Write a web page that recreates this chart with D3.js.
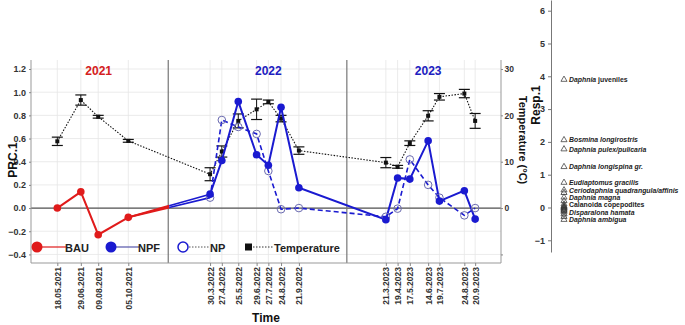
<!DOCTYPE html>
<html>
<head>
<meta charset="utf-8">
<script src="https://cdn.jsdelivr.net/npm/d3@7"></script>
<style>
  body { margin: 0; background: #fff; }
  svg { font-family: "Liberation Sans", Arial, sans-serif; }
</style>
</head>
<body>
<div id="chart"></div>
<script>
// sampling dates and their position on the (uneven) time axis
var dates = ["18.05.2021","29.06.2021","09.08.2021","05.10.2021",
  "30.3.2022","27.4.2022","25.5.2022","29.6.2022","27.7.2022","24.8.2022","21.9.2022",
  "21.3.2023","19.4.2023","17.5.2023","14.6.2023","19.7.2023","24.8.2023","20.9.2023"]
var timePos = [5.6,10.6,14.3,20.7, 38.1,40.6,44.1,48.0,50.5,53.2,57.0, 75.5,78.0,80.6,84.5,86.9,92.2,94.5]
var yearDividers = [29.2, 67.2]
var years = ["2021","2022","2023"]
var yearCenters = [14.4, 50.5, 84.5]

// PRC scores (BAU in 2021, NPF / NP from 2022)
var bau = [0.0, 0.14, -0.23, -0.08]
var npf = [0.12,0.41,0.92,0.46,0.37,0.87,0.175, -0.10,0.26,0.25,0.58,0.06,0.15,-0.095]
var np  = [0.09,0.76,0.70,0.64,0.32,-0.01,0.0, -0.075,-0.005,0.42,0.20,0.09,-0.063,0.0]

// water temperature, mean and error
var temp    = [14.4,23.3,19.7,14.5, 7.3,12.2,18.8,21.3,22.9,19.3,12.4, 9.8,8.9,14.0,19.9,24.0,24.7,18.8]
var tempErr = [0.9,1.1,0.3,0.3, 1.4,1.2,1.5,2.2,0.4,0.7,0.8, 1.1,0.3,0.5,1.1,0.7,0.9,1.6]

// species responses
var species = ["Daphnia|juveniles","Bosmina longirostris|","Daphnia pulex/pulicaria|","Daphnia longispina gr.|",
  "Eudiaptomus gracilis|","Ceriodaphnia quadrangula/affinis|","Daphnia magna|","|Calanoida copepodites",
  "Disparalona hamata|","Daphnia ambigua|"]
var speciesScore = [3.9, 2.06, 1.78, 1.24, 0.76, 0.53, 0.31, 0.1, -0.14, -0.37]
var otherScores = [0.45, 0.2, 0.05, 0.02, 0.0, -0.02, -0.05, -0.08, -0.1, -0.2, -0.28]

var W = 685, H = 325
var svg = d3.select("#chart").append("svg").attr("width", W).attr("height", H)

var x = d3.scaleLinear().domain([0, 100]).range([31, 501])
var y = d3.scaleLinear().domain([-0.474, 1.295]).range([263, 58])
var yT = d3.scaleLinear().domain([-11.85, 32.37]).range([263, 58])
var yR = d3.scaleLinear().domain([-1.357, 6.326]).range([252, 0])

var ink = "#333"
var red = "#e01b1b", blue = "#1a1ad0"

// grid
var g = svg.append("g")
g.selectAll(".hg").data(d3.range(-0.4, 1.21, 0.2)).enter().append("line")
  .attr("x1", 31).attr("x2", 501).attr("y1", d => y(d)).attr("y2", d => y(d))
  .attr("stroke", "#e6e6e6").attr("stroke-width", 0.8)
g.selectAll(".vg").data(timePos).enter().append("line")
  .attr("x1", d => x(d)).attr("x2", d => x(d)).attr("y1", 60).attr("y2", 263)
  .attr("stroke", "#e6e6e6").attr("stroke-width", 0.8)

// zero line and year dividers
g.append("line").attr("x1", 31).attr("x2", 501).attr("y1", y(0)).attr("y2", y(0))
  .attr("stroke", "#555").attr("stroke-width", 1.3)
g.selectAll(".div").data(yearDividers).enter().append("line")
  .attr("x1", d => x(d)).attr("x2", d => x(d)).attr("y1", 60).attr("y2", 263)
  .attr("stroke", "#777").attr("stroke-width", 1.2)

// frame
g.append("path").attr("d", "M31,60V263H501V60").attr("fill", "none").attr("stroke", "#999").attr("stroke-width", 1)

// left axis
var ax = svg.append("g").attr("transform", "translate(31,0)")
  .call(d3.axisLeft(y).tickValues(d3.range(-0.4, 1.21, 0.2)).tickFormat(d3.format(".1f")).tickSize(2))
ax.select(".domain").remove()
ax.selectAll("text").attr("font-size", 9).attr("font-weight", "bold").attr("fill", ink)
  .text(d => Math.abs(d) < 1e-9 ? "0.0" : d3.format(".1f")(d))
ax.selectAll("line").attr("stroke", "#888")

// right temperature axis
var axT = svg.append("g").attr("transform", "translate(501,0)")
  .call(d3.axisRight(yT).tickValues([-10, 0, 10, 20, 30]).tickSize(2).tickPadding(1.5).tickFormat(d => d < 0 ? "" : d))
axT.select(".domain").remove()
axT.selectAll("text").attr("font-size", 8.5).attr("font-weight", "bold").attr("fill", ink)
axT.selectAll("line").attr("stroke", "#888")

// bottom axis
var axB = svg.append("g").attr("transform", "translate(0,263)")
  .call(d3.axisBottom(x).tickValues(timePos).tickFormat((d, i) => dates[i]).tickSize(3))
axB.select(".domain").remove()
axB.selectAll("line").attr("stroke", "#888")
axB.selectAll("text").attr("font-size", 8.5).attr("font-weight", "bold").attr("fill", ink)
  .attr("transform", "rotate(-90)").attr("text-anchor", "end")
  .attr("x", -4).attr("y", 0).attr("dy", "0.35em")

// axis titles
svg.append("text").attr("transform", "translate(17,160) rotate(-90)").attr("text-anchor", "middle")
  .attr("font-size", 12).attr("font-weight", "bold").attr("fill", "#111").text("PRC.1")
svg.append("text").attr("x", 266).attr("y", 322).attr("text-anchor", "middle")
  .attr("font-size", 12).attr("font-weight", "bold").attr("fill", "#111").text("Time")
svg.append("text").attr("transform", "translate(519,140) rotate(90)").attr("text-anchor", "middle")
  .attr("font-size", 11).attr("font-weight", "bold").attr("fill", "#111").text("Temperature (°C)")

// year labels
svg.selectAll(".yr").data(years).enter().append("text")
  .attr("x", (d, i) => x(yearCenters[i])).attr("y", 75).attr("text-anchor", "middle")
  .attr("font-size", 12).attr("font-weight", "bold")
  .attr("fill", (d, i) => i == 0 ? "#d42020" : "#2020c0").text(d => d)

// temperature: dotted line, error bars, squares
var tData = temp.map((t, i) => ({x: timePos[i], t: t, e: tempErr[i]}))
svg.append("path").datum(tData)
  .attr("d", d3.line().x(d => x(d.x)).y(d => yT(d.t)))
  .attr("fill", "none").attr("stroke", "#111").attr("stroke-width", 1.1).attr("stroke-dasharray", "1.5,1.5")
var eb = svg.selectAll(".eb").data(tData).enter().append("g")
eb.append("line").attr("x1", d => x(d.x)).attr("x2", d => x(d.x))
  .attr("y1", d => yT(d.t - d.e)).attr("y2", d => yT(d.t + d.e)).attr("stroke", "#111").attr("stroke-width", 1)
eb.append("line").attr("x1", d => x(d.x) - 5.5).attr("x2", d => x(d.x) + 5.5)
  .attr("y1", d => yT(d.t - d.e)).attr("y2", d => yT(d.t - d.e)).attr("stroke", "#111").attr("stroke-width", 1.2)
eb.append("line").attr("x1", d => x(d.x) - 5.5).attr("x2", d => x(d.x) + 5.5)
  .attr("y1", d => yT(d.t + d.e)).attr("y2", d => yT(d.t + d.e)).attr("stroke", "#111").attr("stroke-width", 1.2)
eb.append("rect").attr("x", d => x(d.x) - 2).attr("y", d => yT(d.t) - 2)
  .attr("width", 4).attr("height", 4).attr("fill", "#111")

// PRC lines
var line = d3.line().x(d => x(d.x)).y(d => y(d.v))
var bauData = bau.map((v, i) => ({x: timePos[i], v: v}))
var npfData = npf.map((v, i) => ({x: timePos[i + 4], v: v}))
var npData = np.map((v, i) => ({x: timePos[i + 4], v: v}))
var last = bauData[bauData.length - 1]

// bridge segments from last BAU sample to first 2022 samples: half red, half blue
;[npfData[0], npData[0]].forEach(function (p) {
  var mid = {x: (last.x + p.x) / 2, v: (last.v + p.v) / 2}
  svg.append("path").datum([last, mid]).attr("d", line).attr("stroke", red).attr("stroke-width", 2).attr("fill", "none")
  svg.append("path").datum([mid, p]).attr("d", line).attr("stroke", blue).attr("stroke-width", 1.6).attr("fill", "none")
})

svg.append("path").datum(bauData).attr("d", line).attr("fill", "none").attr("stroke", red).attr("stroke-width", 2)
svg.append("path").datum(npData).attr("d", line).attr("fill", "none").attr("stroke", blue)
  .attr("stroke-width", 1.6).attr("stroke-dasharray", "5,3")
svg.append("path").datum(npfData).attr("d", line).attr("fill", "none").attr("stroke", blue).attr("stroke-width", 2)

svg.selectAll(".npc").data(npData).enter().append("circle")
  .attr("cx", d => x(d.x)).attr("cy", d => y(d.v)).attr("r", 3.8)
  .attr("fill", "none").attr("stroke", "#6a6ab0").attr("stroke-width", 1)
svg.selectAll(".bauc").data(bauData).enter().append("circle")
  .attr("cx", d => x(d.x)).attr("cy", d => y(d.v)).attr("r", 3.8).attr("fill", red)
svg.selectAll(".npfc").data(npfData).enter().append("circle")
  .attr("cx", d => x(d.x)).attr("cy", d => y(d.v)).attr("r", 3.8).attr("fill", blue)

// legend
var lg = svg.append("g").attr("transform", "translate(0,247)")
lg.append("line").attr("x1", 40).attr("x2", 66).attr("stroke", red).attr("stroke-width", 1.2)
lg.append("circle").attr("cx", 37).attr("r", 5.5).attr("fill", red)
lg.append("text").attr("x", 65).attr("y", 4.5).text("BAU")
lg.append("line").attr("x1", 114).attr("x2", 139).attr("stroke", "#5555aa").attr("stroke-width", 1.2)
lg.append("circle").attr("cx", 111).attr("r", 5.5).attr("fill", blue)
lg.append("text").attr("x", 138).attr("y", 4.5).text("NPF")
lg.append("line").attr("x1", 189).attr("x2", 210).attr("stroke", "#555").attr("stroke-width", 1).attr("stroke-dasharray", "1.5,1.5")
lg.append("circle").attr("cx", 183).attr("r", 5).attr("fill", "#fff").attr("stroke", blue).attr("stroke-width", 1.5)
lg.append("text").attr("x", 210).attr("y", 4.5).text("NP")
lg.append("line").attr("x1", 250).attr("x2", 274).attr("stroke", "#333").attr("stroke-width", 1).attr("stroke-dasharray", "1.5,1.5")
lg.append("rect").attr("x", 245).attr("y", -3.5).attr("width", 7).attr("height", 7).attr("fill", "#111")
lg.append("text").attr("x", 274).attr("y", 4.5).text("Temperature")
lg.selectAll("text").attr("font-size", 11).attr("font-weight", "bold").attr("fill", "#222")

// species response axis
var axR = svg.append("g").attr("transform", "translate(551,0)")
  .call(d3.axisLeft(yR).tickValues(d3.range(-1, 7)).tickSize(3).tickSizeOuter(0))
axR.select(".domain").attr("stroke", "#777")
axR.selectAll("line").attr("stroke", "#777")
axR.selectAll("text").attr("font-size", 9).attr("font-weight", "bold").attr("fill", ink)
svg.append("text").attr("transform", "translate(540,105) rotate(-90)").attr("text-anchor", "middle")
  .attr("font-size", 12).attr("font-weight", "bold").attr("fill", "#111").text("Resp.1")

var tri = d3.symbol().type(d3.symbolTriangle).size(16)
svg.selectAll(".ot").data(otherScores).enter().append("path")
  .attr("d", tri).attr("transform", d => "translate(564," + yR(d) + ")")
  .attr("fill", "none").attr("stroke", "#333").attr("stroke-width", 0.8)
svg.selectAll(".sp").data(speciesScore).enter().append("path")
  .attr("d", tri).attr("transform", d => "translate(564," + yR(d) + ")")
  .attr("fill", "none").attr("stroke", "#444").attr("stroke-width", 0.8)

var labels = svg.selectAll(".lab").data(species).enter().append("text")
  .attr("x", 569).attr("y", (d, i) => yR(speciesScore[i]) + 2.5)
  .attr("font-size", 6.9).attr("font-weight", "bold").attr("fill", "#222")
labels.each(function (d) {
  var parts = d.split("|")
  var t = d3.select(this)
  if (parts[0]) t.append("tspan").attr("font-style", "italic").text(parts[0])
  if (parts[1]) t.append("tspan").text((parts[0] ? " " : "") + parts[1])
})
</script>
</body>
</html>
